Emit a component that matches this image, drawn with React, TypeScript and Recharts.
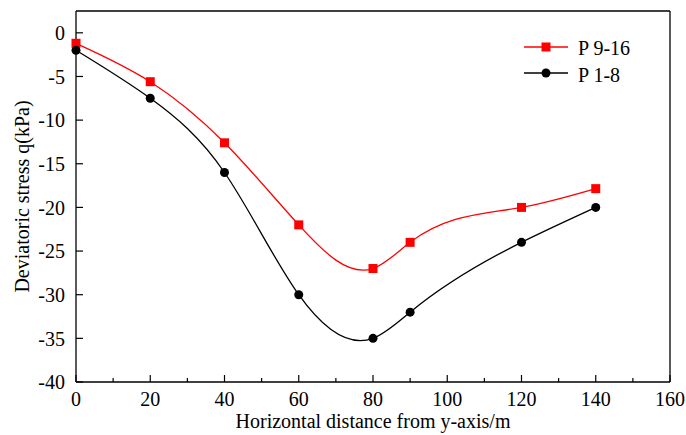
import { LineChart, Line, XAxis, YAxis, ReferenceLine, Legend } from "recharts";

const distances = [0, 20, 40, 60, 80, 90, 120, 140];
const p916 = [-1.2, -5.6, -12.6, -22, -27, -24, -20, -17.85];
const p18 = [-2, -7.5, -16, -30, -35, -32, -24, -20];

const xTicks = [0, 10, 20, 30, 40, 50, 60, 70, 80, 90, 100, 110, 120, 130, 140, 150, 160];
const yTicks = [-40, -35, -30, -25, -20, -15, -10, -5, 0];

const FONT = '"Liberation Serif", "Times New Roman", serif';

const data = distances.map((x, i) => ({ x, p916: p916[i], p18: p18[i] }));

// natural cubic spline y(x), drawn as bezier segments (like Origin's spline connect)
const splineX = (context: any) => {
  let xs: number[] = [];
  let ys: number[] = [];
  return {
    areaStart() {},
    areaEnd() {},
    lineStart() {
      xs = [];
      ys = [];
    },
    point(x: number, y: number) {
      xs.push(+x);
      ys.push(+y);
    },
    lineEnd() {
      const n = xs.length;
      if (!n) return;
      context.moveTo(xs[0], ys[0]);
      if (n < 3) {
        if (n === 2) context.lineTo(xs[1], ys[1]);
        return;
      }
      const h: number[] = [];
      for (let i = 0; i < n - 1; i++) h.push(xs[i + 1] - xs[i]);
      const M = new Array(n).fill(0);
      const cp: number[] = [];
      const dp: number[] = [];
      for (let i = 1; i < n - 1; i++) {
        const a = h[i - 1];
        const b = 2 * (h[i - 1] + h[i]);
        const c = h[i];
        const d = 6 * ((ys[i + 1] - ys[i]) / h[i] - (ys[i] - ys[i - 1]) / h[i - 1]);
        const prevC = i > 1 ? cp[i - 1] : 0;
        const prevD = i > 1 ? dp[i - 1] : 0;
        const den = b - (i > 1 ? a : 0) * prevC;
        cp[i] = c / den;
        dp[i] = (d - (i > 1 ? a : 0) * prevD) / den;
      }
      for (let i = n - 2; i >= 1; i--) {
        M[i] = dp[i] - cp[i] * (i < n - 2 ? M[i + 1] : 0);
      }
      for (let i = 0; i < n - 1; i++) {
        const s = (ys[i + 1] - ys[i]) / h[i];
        const m0 = s - (h[i] * (2 * M[i] + M[i + 1])) / 6;
        const m1 = s + (h[i] * (M[i] + 2 * M[i + 1])) / 6;
        const t = h[i] / 3;
        context.bezierCurveTo(xs[i] + t, ys[i] + m0 * t, xs[i + 1] - t, ys[i + 1] - m1 * t, xs[i + 1], ys[i + 1]);
      }
    },
  };
};

const XTick = ({ x, y, payload }: any) => {
  const major = payload.value % 20 === 0;
  return (
    <g>
      <line x1={x} x2={x} y1={y} y2={y - (major ? 7 : 4)} stroke="#000" strokeWidth={1.2} />
      {major && (
        <text x={x} y={y + 24} textAnchor="middle" fill="#000" fontSize={20} fontFamily={FONT}>
          {payload.value}
        </text>
      )}
    </g>
  );
};

const YTick = ({ x, y, payload }: any) => (
  <g>
    <line x1={x} x2={x + 7} y1={y} y2={y} stroke="#000" strokeWidth={1.2} />
    <text x={x - 11} y={y} dy="0.36em" textAnchor="end" fill="#000" fontSize={20} fontFamily={FONT}>
      {payload.value}
    </text>
  </g>
);

const SquareDot = (props: any) => {
  const { cx, cy, index } = props;
  return <rect key={`sq-${index}`} x={cx - 4.5} y={cy - 4.5} width={9} height={9} fill="#ff0000" />;
};

const LegendBox = () => (
  <svg width={150} height={60} style={{ fontFamily: FONT }}>
    <line x1={4} x2={48} y1={17} y2={17} stroke="#ff0000" strokeWidth={1.3} />
    <rect x={21.5} y={12.5} width={9} height={9} fill="#ff0000" />
    <text x={58} y={25} fontSize={20} fill="#000" fontFamily={FONT}>P 9-16</text>
    <line x1={4} x2={48} y1={43} y2={43} stroke="#000" strokeWidth={1.3} />
    <circle cx={26} cy={43} r={4.5} fill="#000" />
    <text x={58} y={52} fontSize={20} fill="#000" fontFamily={FONT}>P 1-8</text>
  </svg>
);

export default function App() {
  return (
    <div style={{ position: "absolute", left: 0, top: 0, background: "#fff" }}>
      <LineChart
        width={686}
        height={435}
        data={data}
        margin={{ top: 11, right: 16, left: 0, bottom: 0 }}
        style={{ fontFamily: FONT }}
      >
        <XAxis
          dataKey="x"
          type="number"
          domain={[0, 160]}
          ticks={xTicks}
          interval={0}
          height={53}
          tickSize={0}
          tickMargin={0}
          tickLine={false}
          tick={<XTick />}
          axisLine={{ stroke: "#000", strokeWidth: 1.3 }}
          label={{
            value: "Horizontal distance from y-axis/m",
            position: "center",
            dy: 12,
            fill: "#000",
            fontSize: 20,
            fontFamily: FONT,
          }}
        />
        <YAxis
          type="number"
          domain={[-40, 2.5]}
          ticks={yTicks}
          interval={0}
          width={76}
          tickSize={0}
          tickMargin={0}
          tickLine={false}
          tick={<YTick />}
          axisLine={{ stroke: "#000", strokeWidth: 1.3 }}
          label={{
            value: "Deviatoric stress q(kPa)",
            angle: -90,
            position: "center",
            dx: -16,
            fill: "#000",
            fontSize: 20,
            fontFamily: FONT,
          }}
        />
        <ReferenceLine y={2.5} stroke="#000" strokeWidth={1.3} ifOverflow="visible" />
        <ReferenceLine x={160} stroke="#000" strokeWidth={1.3} ifOverflow="visible" />
        <Legend
          layout="vertical"
          verticalAlign="middle"
          align="center"
          content={() => <LegendBox />}
          wrapperStyle={{ top: 30, left: 520, width: 150 }}
        />
        <Line
          type={splineX as any}
          dataKey="p916"
          name="P 9-16"
          stroke="#ff0000"
          strokeWidth={1.3}
          dot={SquareDot}
          activeDot={false}
          isAnimationActive={false}
        />
        <Line
          type={splineX as any}
          dataKey="p18"
          name="P 1-8"
          stroke="#000"
          strokeWidth={1.3}
          dot={{ r: 4.5, fill: "#000", stroke: "#000", strokeWidth: 0 }}
          activeDot={false}
          isAnimationActive={false}
        />
      </LineChart>
    </div>
  );
}
